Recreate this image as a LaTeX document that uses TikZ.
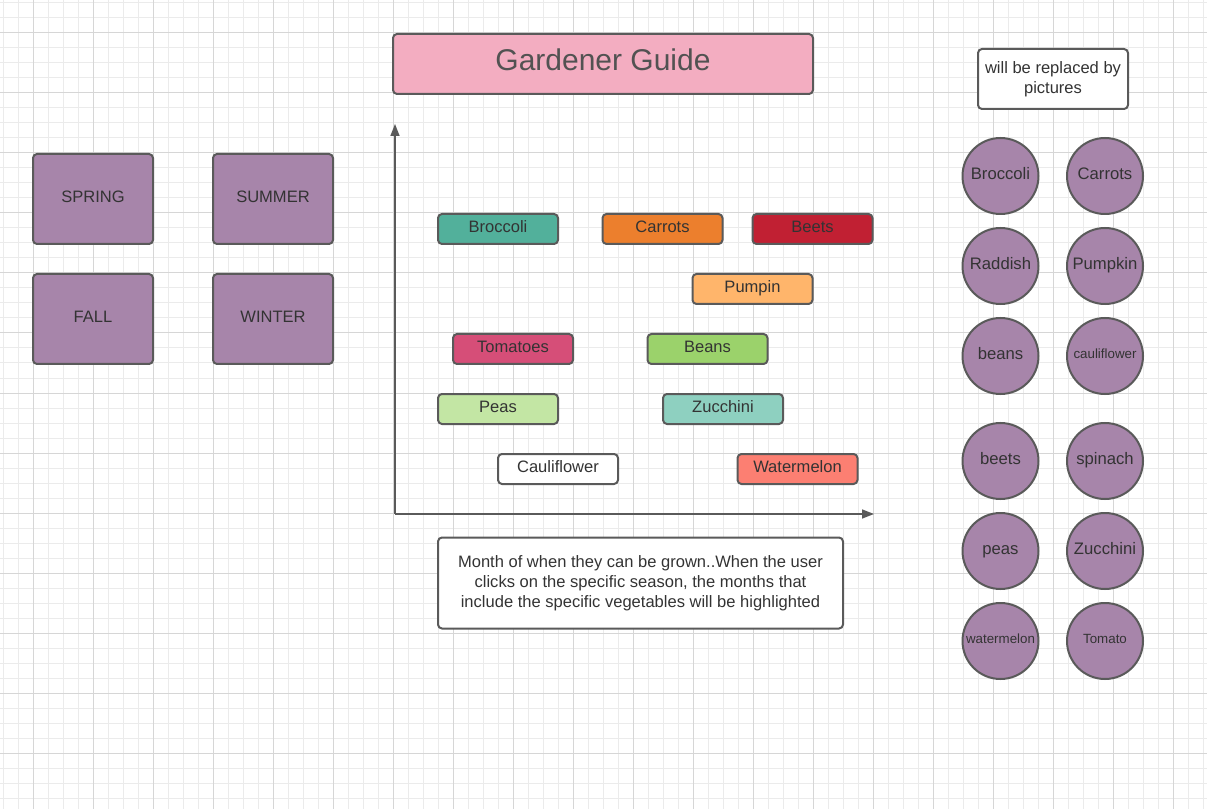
\documentclass[tikz,border=0pt]{standalone}
\usepackage{fontspec}
\setmainfont{Liberation Sans}
\usetikzlibrary{arrows.meta}

\definecolor{ink}{HTML}{333333}
\definecolor{edge}{HTML}{5A5A5A}
\definecolor{gridminor}{HTML}{EBEBEB}
\definecolor{gridmajor}{HTML}{D6D6D6}
\definecolor{seasonfill}{HTML}{A785AA}
\definecolor{titlefill}{HTML}{F3ADC1}
\definecolor{broccolifill}{HTML}{52B09B}
\definecolor{carrotfill}{HTML}{EC7F2D}
\definecolor{beetfill}{HTML}{C12033}
\definecolor{pumpkinfill}{HTML}{FFB56B}
\definecolor{tomatofill}{HTML}{D64E78}
\definecolor{beanfill}{HTML}{9BD26B}
\definecolor{peafill}{HTML}{C3E6A4}
\definecolor{zucchinifill}{HTML}{8ED0C0}
\definecolor{melonfill}{HTML}{FC7F72}

\tikzset{
  box/.style={draw=edge, line width=1.5pt, rounded corners=3pt, text=ink,
    inner sep=0pt, font=\fontsize{12.4}{15}\selectfont},
  season/.style={box, fill=seasonfill, minimum width=90pt, minimum height=67.5pt,
    text height=9pt, text depth=4.4pt},
  bar/.style={box, minimum width=90pt, minimum height=22.5pt,
    text height=9pt, text depth=4.4pt},
  veg/.style={circle, draw=edge, line width=1.5pt, fill=seasonfill, text=ink,
    inner sep=0pt, minimum size=57pt, font=\fontsize{12.5}{15}\selectfont,
    text height=9pt, text depth=4.4pt},
  smallveg/.style={veg, font=\fontsize{10}{12}\selectfont, text height=7.5pt, text depth=3.6pt},
  note/.style={box, fill=white, align=center},
  axis/.style={draw=edge, line width=1.1pt, -{Triangle[length=9pt, width=6.75pt]}},
}

\begin{document}
\begin{tikzpicture}[x=0.75pt, y=-0.75pt]
  % page and background grid
  \fill[white] (0,0) rectangle (1207,809);
  \useasboundingbox (0,0) rectangle (1207,809);
  \foreach \k in {0,...,80} {
    \draw[gridminor, line width=0.75pt] ({3+15*\k},0) -- ({3+15*\k},809);
  }
  \foreach \k in {0,...,53} {
    \draw[gridminor, line width=0.75pt] (0,{3+15*\k}) -- (1207,{3+15*\k});
  }
  \foreach \k in {0,...,19} {
    \draw[gridmajor, line width=0.75pt] ({33+60*\k},0) -- ({33+60*\k},809);
  }
  \foreach \k in {0,...,13} {
    \draw[gridmajor, line width=0.75pt] (0,{33+60*\k}) -- (1207,{33+60*\k});
  }

  % title
  \node[box, fill=titlefill, minimum width=315pt, minimum height=45pt,
        font=\fontsize{22.5}{27}\selectfont, text=ink!85!white,
        text height=17pt, text depth=7.3pt] (title) at (603,64) {Gardener Guide};

  % seasons
  \node[season] (spring) at (93,199) {SPRING};
  \node[season] (summer) at (273,199) {SUMMER};
  \node[season] (fall)   at (93,319) {FALL};
  \node[season] (winter) at (273,319) {WINTER};

  % chart axes
  \coordinate (origin) at (395,514);
  \coordinate (ytip) at (395,124);
  \coordinate (xtip) at (874,514);
  \draw[axis] (origin) -- (ytip);
  \draw[axis] (origin) -- (xtip);

  % growing periods
  \node[bar, fill=broccolifill] (broccolibar) at (498,229)   {Broccoli};
  \node[bar, fill=carrotfill]   (carrotbar)   at (662.5,229) {Carrots};
  \node[bar, fill=beetfill]     (beetbar)     at (812.5,229) {Beets};
  \node[bar, fill=pumpkinfill]  (pumpkinbar)  at (752.5,289) {Pumpin};
  \node[bar, fill=tomatofill]   (tomatobar)   at (513,349)   {Tomatoes};
  \node[bar, fill=beanfill]     (beanbar)     at (707.5,349) {Beans};
  \node[bar, fill=peafill]      (peabar)      at (498,409)   {Peas};
  \node[bar, fill=zucchinifill] (zucchinibar) at (723,409)   {Zucchini};
  \node[bar, fill=white]        (cauliflowerbar) at (558,469) {Cauliflower};
  \node[bar, fill=melonfill]    (melonbar)    at (797.5,469) {Watermelon};

  % explanation
  \node[note, minimum width=303.75pt, minimum height=68.25pt] (explain) at (640.5,583)
    {Month of when they can be grown..When the user\\
     clicks on the specific season, the months that\\
     include the specific vegetables will be highlighted};

  \node[note, minimum width=112.5pt, minimum height=45pt] (picnote) at (1053,79)
    {will be replaced by\\pictures};

  % vegetable placeholders
  \node[veg] (vbroccoli) at (1000.5,176) {Broccoli};
  \node[veg] (vcarrots)  at (1105,176)   {Carrots};
  \node[veg] (vraddish)  at (1000.5,266) {Raddish};
  \node[veg] (vpumpkin)  at (1105,266)   {Pumpkin};
  \node[veg] (vbeans)    at (1000.5,356) {beans};
  \node[smallveg] (vcauli) at (1105,356) {cauliflower};
  \node[veg] (vbeets)    at (1000.5,461) {beets};
  \node[veg] (vspinach)  at (1105,461)   {spinach};
  \node[veg] (vpeas)     at (1000.5,551) {peas};
  \node[veg] (vzucchini) at (1105,551)   {Zucchini};
  \node[smallveg] (vmelon)  at (1000.5,641) {watermelon};
  \node[smallveg] (vtomato) at (1105,641)   {Tomato};
\end{tikzpicture}
\end{document}
